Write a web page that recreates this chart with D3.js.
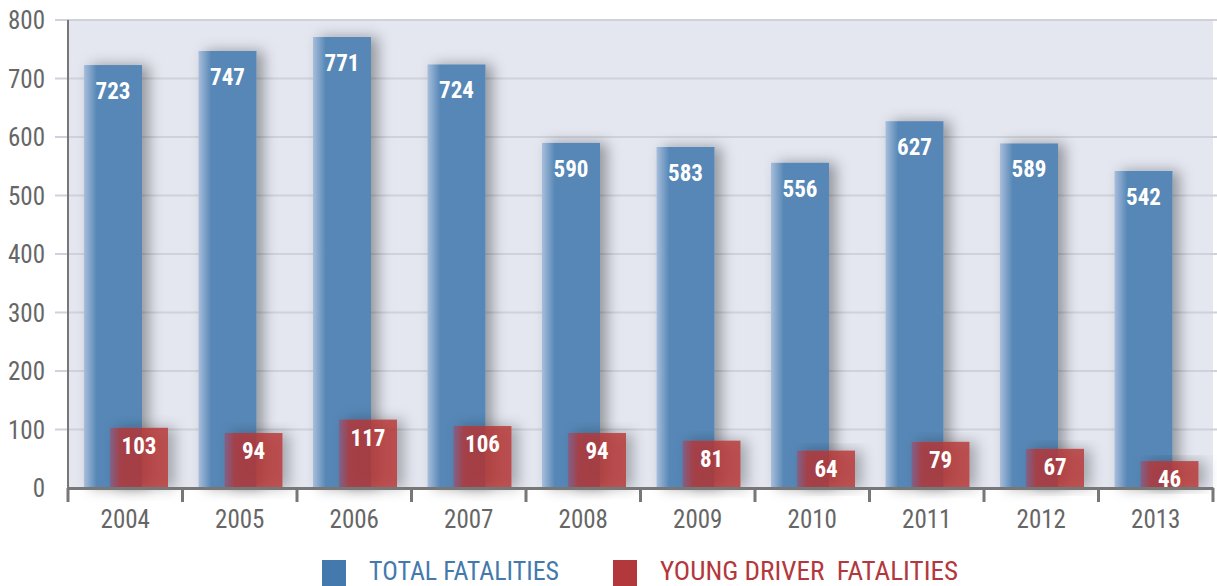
<!DOCTYPE html>
<html lang="en">
<head>
    <meta charset="UTF-8">
    <title>Fatalities 2004-2013</title>
    <script src="https://cdnjs.cloudflare.com/ajax/libs/d3/7.8.5/d3.min.js"></script>
    <style>
        body { margin: 0; background: #fff; }
        svg text { font-family: "Liberation Sans Narrow", "Arial Narrow", "Roboto Condensed", "Liberation Sans", sans-serif; }
    </style>
</head>
<body>
    <div id="chart"></div>
    <script>
        const years = ["2004", "2005", "2006", "2007", "2008", "2009", "2010", "2011", "2012", "2013"];
        const totalFatalities = [723, 747, 771, 724, 590, 583, 556, 627, 589, 542];
        const youngDriverFatalities = [103, 94, 117, 106, 94, 81, 64, 79, 67, 46];
        const yTicks = [0, 100, 200, 300, 400, 500, 600, 700, 800];

        const width = 1217, height = 586;
        const plotLeft = 68, plotRight = 1213, plotTop = 20, plotBottom = 488;

        const svg = d3.select("#chart").append("svg")
            .attr("width", width)
            .attr("height", height);

        const x = d3.scaleBand().domain(years).range([plotLeft, plotRight]);
        const y = d3.scaleLinear().domain([0, 800]).range([plotBottom, plotTop]);

        const defs = svg.append("defs");
        const shadow = defs.append("filter").attr("id", "shadow")
            .attr("x", "-30%").attr("y", "-20%").attr("width", "180%").attr("height", "140%");
        shadow.append("feDropShadow")
            .attr("dx", 7).attr("dy", 0).attr("stdDeviation", 7)
            .attr("flood-color", "#000").attr("flood-opacity", 0.35);

        function edgeGradient(id, edge, body, stop) {
            const g = defs.append("linearGradient").attr("id", id)
                .attr("x1", "0%").attr("x2", "100%");
            g.append("stop").attr("offset", "0%").attr("stop-color", edge);
            g.append("stop").attr("offset", stop).attr("stop-color", body);
            g.append("stop").attr("offset", "100%").attr("stop-color", body);
        }
        edgeGradient("blueGrad", "#a7bedb", "#5787b6", "22%");
        edgeGradient("redGrad", "#8a5a80", "#b73334", "18%");

        // plot background
        svg.append("rect")
            .attr("x", plotLeft).attr("y", plotTop)
            .attr("width", plotRight - plotLeft).attr("height", plotBottom - plotTop)
            .attr("fill", "#e4e7f0");

        // gridlines
        svg.append("g")
            .selectAll("line")
            .data(yTicks.filter(d => d > 0))
            .enter()
            .append("line")
            .attr("x1", 55).attr("x2", width)
            .attr("y1", d => y(d)).attr("y2", d => y(d))
            .attr("stroke", "#cfd2da").attr("stroke-width", 2);

        const barW = 58;

        // total bars
        svg.append("g")
            .selectAll("rect")
            .data(totalFatalities)
            .enter()
            .append("rect")
            .attr("x", (d, i) => x(years[i]) + 16)
            .attr("y", d => y(d))
            .attr("width", barW)
            .attr("height", d => plotBottom - y(d))
            .attr("fill", "url(#blueGrad)")
            .attr("filter", "url(#shadow)");

        // young driver bars (semi-transparent over the blue ones)
        svg.append("g")
            .selectAll("rect")
            .data(youngDriverFatalities)
            .enter()
            .append("rect")
            .attr("x", (d, i) => x(years[i]) + 42)
            .attr("y", d => y(d))
            .attr("width", barW)
            .attr("height", d => plotBottom - y(d))
            .attr("fill", "url(#redGrad)")
            .attr("fill-opacity", 0.8)
            .attr("filter", "url(#shadow)");

        // value labels
        svg.append("g")
            .selectAll("text")
            .data(totalFatalities)
            .enter()
            .append("text")
            .attr("x", (d, i) => x(years[i]) + 16 + barW / 2)
            .attr("y", d => y(d) + 34)
            .attr("text-anchor", "middle")
            .attr("font-size", 23)
            .attr("font-weight", "bold")
            .attr("fill", "#fff")
            .text(d => d);

        svg.append("g")
            .selectAll("text")
            .data(youngDriverFatalities)
            .enter()
            .append("text")
            .attr("x", (d, i) => x(years[i]) + 42 + barW / 2)
            .attr("y", d => y(d) + 26)
            .attr("text-anchor", "middle")
            .attr("font-size", 23)
            .attr("font-weight", "bold")
            .attr("fill", "#fff")
            .text(d => d);

        // y axis
        svg.append("line")
            .attr("x1", plotLeft).attr("x2", plotLeft)
            .attr("y1", plotTop).attr("y2", plotBottom)
            .attr("stroke", "#777").attr("stroke-width", 2);

        svg.append("g")
            .selectAll("text")
            .data(yTicks)
            .enter()
            .append("text")
            .attr("x", 45)
            .attr("y", d => y(d) + 9)
            .attr("text-anchor", "end")
            .attr("font-size", 25)
            .attr("fill", "#666")
            .text(d => d);

        // x axis
        const xAxis = svg.append("g")
            .attr("transform", `translate(0,${plotBottom})`)
            .call(d3.axisBottom(x).tickSize(0).tickPadding(22));
        xAxis.select(".domain").attr("stroke", "#777").attr("stroke-width", 3);
        xAxis.selectAll("text")
            .attr("font-size", 25)
            .attr("fill", "#666")
            .attr("font-family", null);

        svg.append("g")
            .selectAll("line")
            .data(years.map(d => x(d)).concat([plotRight]))
            .enter()
            .append("line")
            .attr("x1", d => d).attr("x2", d => d)
            .attr("y1", plotBottom).attr("y2", plotBottom + 14)
            .attr("stroke", "#777").attr("stroke-width", 3);

        // legend
        const legend = [
            { label: "TOTAL FATALITIES", color: "#4379ad", x: 322 },
            { label: "YOUNG DRIVER  FATALITIES", color: "#b3383c", x: 613 }
        ];
        const lg = svg.append("g")
            .selectAll("g")
            .data(legend)
            .enter()
            .append("g");
        lg.append("rect")
            .attr("x", d => d.x).attr("y", 560)
            .attr("width", 24).attr("height", 26)
            .attr("fill", d => d.color);
        lg.append("text")
            .attr("x", d => d.x + 47)
            .attr("y", 580)
            .attr("font-size", 26)
            .attr("textLength", (d, i) => i === 0 ? 190 : 298)
            .attr("lengthAdjust", "spacingAndGlyphs")
            .attr("fill", d => d.color)
            .style("white-space", "pre")
            .text(d => d.label);
    </script>
</body>
</html>
